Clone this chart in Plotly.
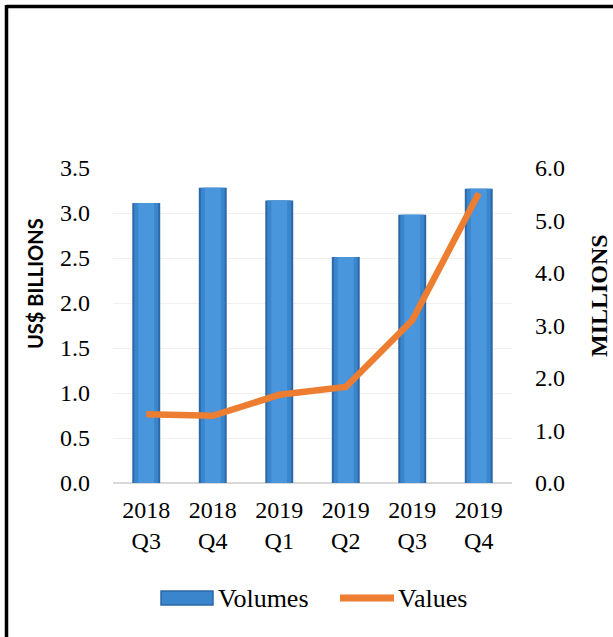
import plotly.graph_objects as go

# Quarterly data
quarters = ["2018<br>Q3", "2018<br>Q4", "2019<br>Q1", "2019<br>Q2", "2019<br>Q3", "2019<br>Q4"]
volumes = [3.11, 3.28, 3.14, 2.51, 2.98, 3.27]      # left axis, US$ billions
values = [1.31, 1.28, 1.68, 1.83, 3.10, 5.52]       # right axis, millions

left_ticks = [0, 0.5, 1.0, 1.5, 2.0, 2.5, 3.0, 3.5]
right_ticks = [0, 1, 2, 3, 4, 5, 6]

W, H = 613, 637
L, R, T, B = 113, 101, 168, 154
PW, PH = W - L - R, H - T - B

def px(x):
    return (x - L) / PW

def py(y):
    return (H - B - y) / PH

SERIF = "Liberation Serif"
BLUE_DARK = "#2c68a6"
BLUE_MID = "#3a85cc"
BLUE_LIGHT = "#4996dd"
ORANGE = "#ed7d31"

fig = go.Figure()

# layered bars give the bevelled look of the columns
for w, c in [(0.42, BLUE_DARK), (0.36, BLUE_MID), (0.24, BLUE_LIGHT)]:
    fig.add_trace(go.Bar(
        x=quarters, y=volumes, width=w, name="Volumes",
        marker=dict(color=c, line=dict(width=0)),
        showlegend=False, yaxis="y",
    ))

fig.add_trace(go.Scatter(
    x=quarters, y=values, name="Values", mode="lines",
    line=dict(color=ORANGE, width=6.5), yaxis="y2", showlegend=False,
))

shapes = [
    # outer frame
    dict(type="line", xref="paper", yref="paper", x0=px(6.5), x1=px(W + 5),
         y0=py(6.5), y1=py(6.5), line=dict(color="black", width=3.5)),
    dict(type="line", xref="paper", yref="paper", x0=px(6.5), x1=px(6.5),
         y0=py(5), y1=py(H + 5), line=dict(color="black", width=3.5)),
    # legend symbols
    dict(type="rect", xref="paper", yref="paper", x0=px(161), x1=px(213),
         y0=py(605), y1=py(591), fillcolor=BLUE_MID, line=dict(color=BLUE_DARK, width=1.5)),
    dict(type="line", xref="paper", yref="paper", x0=px(340), x1=px(394),
         y0=py(598), y1=py(598), line=dict(color=ORANGE, width=7)),
]

annotations = [
    dict(text="Volumes", xref="paper", yref="paper", x=px(216), y=py(598),
         xanchor="left", yanchor="middle", showarrow=False,
         font=dict(family=SERIF, size=26, color="black")),
    dict(text="Values", xref="paper", yref="paper", x=px(396), y=py(598),
         xanchor="left", yanchor="middle", showarrow=False,
         font=dict(family=SERIF, size=26, color="black")),
    dict(text="<b>US$ BILLIONS</b>", xref="paper", yref="paper", x=px(35), y=py(284),
         xanchor="center", yanchor="middle", textangle=-90, showarrow=False,
         font=dict(family="Lato", size=20, color="black")),
    dict(text="<b>MILLIONS</b>", xref="paper", yref="paper", x=px(599), y=py(296),
         xanchor="center", yanchor="middle", textangle=-90, showarrow=False,
         font=dict(family=SERIF, size=24, color="black")),
]

fig.update_layout(
    width=W, height=H,
    margin=dict(l=L, r=R, t=T, b=B),
    paper_bgcolor="white", plot_bgcolor="white",
    font=dict(family=SERIF, size=24, color="black"),
    barmode="overlay",
    showlegend=False,
    xaxis=dict(
        showgrid=False, zeroline=False, showline=False,
        tickfont=dict(family=SERIF, size=24, color="black"),
        ticks="", ticklabelstandoff=10,
    ),
    yaxis=dict(
        range=[0, 3.5], tickvals=left_ticks, tickformat=".1f",
        showgrid=True, gridcolor="#f0f0f0", gridwidth=1,
        zeroline=True, zerolinecolor="#d9d9d9", zerolinewidth=1.5,
        tickfont=dict(family=SERIF, size=24, color="black"),
        ticks="", ticklabelstandoff=22,
    ),
    yaxis2=dict(
        range=[0, 6], tickvals=right_ticks, tickformat=".1f",
        overlaying="y", side="right", showgrid=False, zeroline=False,
        tickfont=dict(family=SERIF, size=24, color="black"),
        ticks="", ticklabelstandoff=22,
    ),
    shapes=shapes,
    annotations=annotations,
)

fig.write_html("out.html")
